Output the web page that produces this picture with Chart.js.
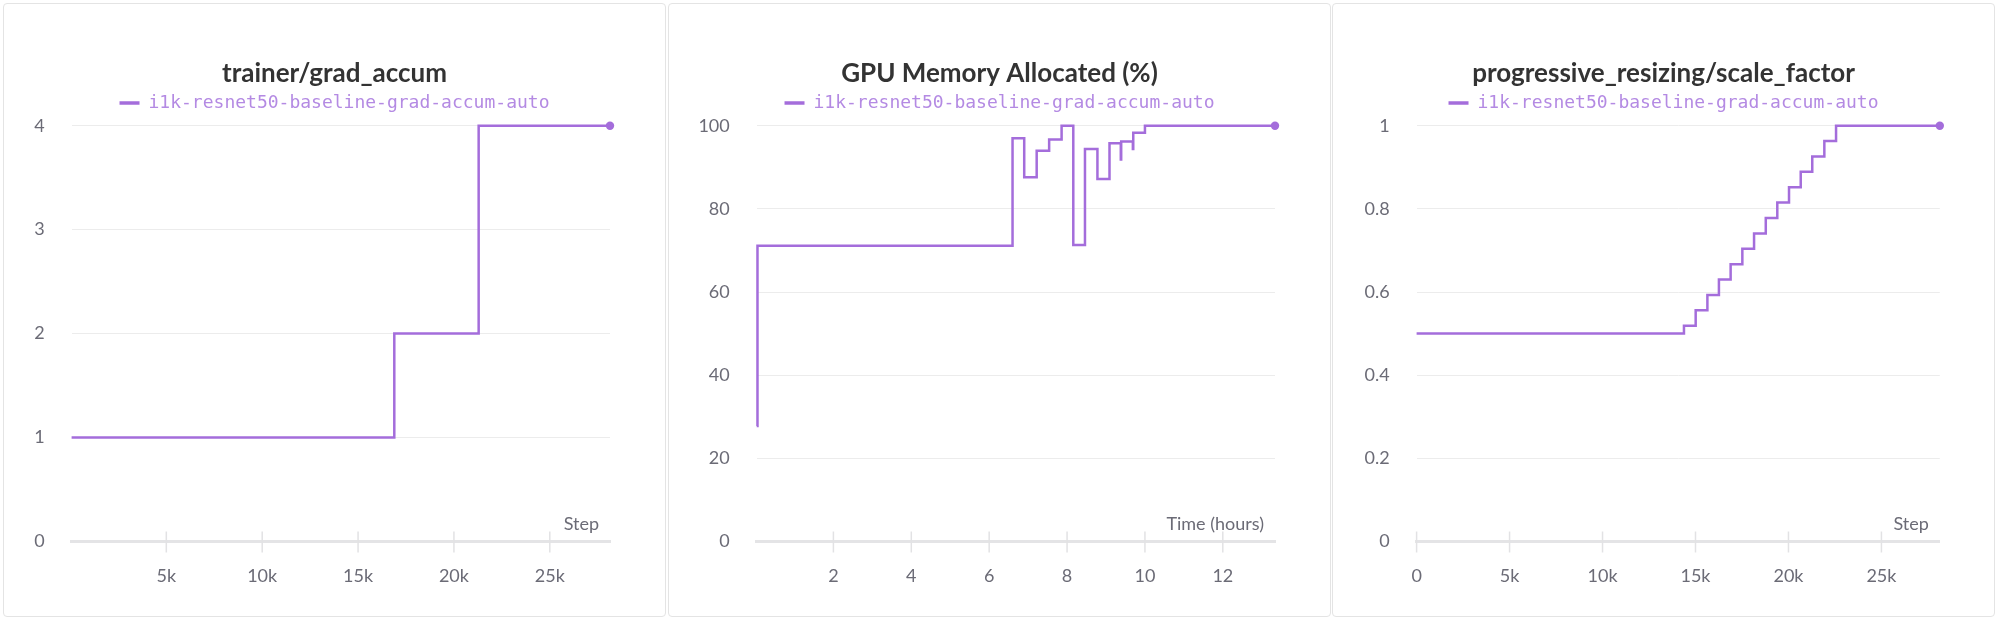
<!DOCTYPE html>
<html>
<head>
<meta charset="utf-8">
<script src="https://cdn.jsdelivr.net/npm/chart.js@4.4.0/dist/chart.umd.min.js"></script>
<style>
  html, body { margin: 0; padding: 0; background: #fff; }
  body { width: 1999px; height: 619px; position: relative; overflow: hidden; }
  .panel { position: absolute; top: 3px; width: 661px; height: 612px; border: 1px solid #e4e4e4; border-radius: 4px; }
  .panel canvas { display: block; }
</style>
</head>
<body>
<div class="panel" style="left:3px"><canvas id="c1" width="661" height="612"></canvas></div>
<div class="panel" style="left:668px"><canvas id="c2" width="661" height="612"></canvas></div>
<div class="panel" style="left:1332px"><canvas id="c3" width="661" height="612"></canvas></div>
<script>
const runName = 'i1k-resnet50-baseline-grad-accum-auto';

// trainer/grad_accum vs step
const gradSteps  = [60, 16890, 21290, 28140];
const gradValues = [1, 2, 4, 4];
const gradXTicks = [5000, 10000, 15000, 20000, 25000];
const gradYTicks = [0, 1, 2, 3, 4];

// GPU memory allocated (%) vs time (hours)
const gpuHours  = [0.03, 0.05, 6.6, 6.9, 7.22, 7.54, 7.86, 8.16, 8.46, 8.78, 9.09, 9.38, 9.39, 9.69, 9.70, 10.0, 13.34];
const gpuValues = [27.8, 71.1, 97.0, 87.6, 94.0, 96.7, 100, 71.3, 94.4, 87.2, 95.8, 91.9, 96.2, 94.4, 98.3, 100, 100];
const gpuXTicks = [2, 4, 6, 8, 10, 12];
const gpuYTicks = [0, 20, 40, 60, 80, 100];

// progressive_resizing/scale_factor vs step
const scaleSteps  = [0, 14380, 15010, 15640, 16260, 16890, 17520, 18150, 18780, 19400, 20030, 20660, 21280, 21930, 22560, 28140];
const scaleValues = [0.5, 0.519, 0.556, 0.593, 0.630, 0.667, 0.704, 0.741, 0.778, 0.815, 0.852, 0.889, 0.926, 0.963, 1.0, 1.0];
const scaleXTicks = [0, 5000, 10000, 15000, 20000, 25000];
const scaleYTicks = [0, 0.2, 0.4, 0.6, 0.8, 1];

const lineColor = '#a46ddb';
const tickColor = '#6b6b76';
const sans = 'Lato';

const kFmt = v => v === 0 ? '0' : (v / 1000) + 'k';
const numFmt = v => String(Math.round(v * 100) / 100);

// tick marks across the x axis line + axis name above it on the right
const axisMarks = {
  id: 'axisMarks',
  beforeDatasetsDraw(chart, args, opts) {
    const {ctx, chartArea} = chart;
    const xs = chart.scales.x;
    ctx.save();
    ctx.strokeStyle = '#e2e2e4';
    ctx.lineWidth = 1.5;
    xs.ticks.forEach(t => {
      const px = xs.getPixelForValue(t.value);
      ctx.beginPath();
      ctx.moveTo(px, chartArea.bottom - 10);
      ctx.lineTo(px, chartArea.bottom + 11);
      ctx.stroke();
    });
    ctx.font = '18px ' + sans;
    ctx.fillStyle = tickColor;
    ctx.textAlign = 'right';
    ctx.textBaseline = 'middle';
    ctx.fillText(opts.text, chartArea.right - 11, chartArea.bottom - 17);
    ctx.restore();
  }
};

function makeChart(id, c) {
  const n = c.xs.length;
  return new Chart(document.getElementById(id), {
    type: 'line',
    data: {
      datasets: [{
        label: runName,
        data: c.xs.map((x, i) => ({x, y: c.ys[i]})),
        stepped: true,
        borderColor: lineColor,
        backgroundColor: lineColor,
        borderWidth: 2.5,
        pointRadius: ctx => ctx.dataIndex === n - 1 ? 4.2 : 0,
        pointBorderWidth: 0,
        pointBackgroundColor: lineColor,
        fill: false,
        clip: false
      }]
    },
    options: {
      responsive: false,
      animation: false,
      events: [],
      layout: { padding: 0 },
      plugins: {
        title: {
          display: true, text: c.title, color: '#333',
          font: { family: sans, size: 26, weight: 'bold' },
          padding: { top: 53.9, bottom: 0.9 }
        },
        legend: {
          display: true,
          labels: {
            usePointStyle: true, pointStyle: 'line', pointStyleWidth: 20,
            font: { family: 'DejaVu Sans Mono', size: 18 },
            color: '#b48ae3', padding: 4,
            generateLabels: ch => Chart.defaults.plugins.legend.labels.generateLabels(ch).map(l => Object.assign(l, { lineWidth: 3.5 }))
          }
        },
        subtitle: { display: true, text: ' ', weight: 500, padding: 0, font: { size: 3.08 } },
        tooltip: { enabled: false },
        axisMarks: { text: c.xName }
      },
      scales: {
        x: {
          type: 'linear', min: c.xMin, max: c.xMax,
          afterBuildTicks: s => { s.ticks = c.xTicks.map(v => ({ value: v })); },
          ticks: { padding: 23.7, color: tickColor, font: { family: sans, size: 18 },
                   maxRotation: 0, autoSkip: false, callback: c.xFmt },
          grid: { display: false, drawTicks: false },
          border: { display: true, color: '#e4e4e6', width: 3 },
          afterFit: s => { s.height = 74.5; s.paddingRight = c.padRight; s.paddingLeft = 0; }
        },
        y: {
          min: 0, max: c.yMax,
          afterBuildTicks: s => { s.ticks = c.yTicks.map(v => ({ value: v })); },
          ticks: { padding: 27, color: tickColor, font: { family: sans, size: 18 }, callback: numFmt },
          grid: { color: ctx => ctx.tick && ctx.tick.value === 0 ? 'rgba(0,0,0,0)' : '#ececec', lineWidth: 1, drawTicks: false },
          border: { display: false },
          afterFit: s => { s.width = c.yWidth; }
        }
      }
    },
    plugins: [axisMarks]
  });
}

makeChart('c1', { title: 'trainer/grad_accum', xs: gradSteps, ys: gradValues,
  xMin: gradSteps[0], xMax: gradSteps[gradSteps.length - 1], xTicks: gradXTicks, xFmt: kFmt, xName: 'Step',
  yMax: 4, yTicks: gradYTicks, yWidth: 67.6, padRight: 55 });

makeChart('c2', { title: 'GPU Memory Allocated (%)', xs: gpuHours, ys: gpuValues,
  xMin: gpuHours[0], xMax: gpuHours[gpuHours.length - 1], xTicks: gpuXTicks, xFmt: v => v, xName: 'Time (hours)',
  yMax: 100, yTicks: gpuYTicks, yWidth: 87.7, padRight: 55 });

makeChart('c3', { title: 'progressive_resizing/scale_factor', xs: scaleSteps, ys: scaleValues,
  xMin: 0, xMax: scaleSteps[scaleSteps.length - 1], xTicks: scaleXTicks, xFmt: kFmt, xName: 'Step',
  yMax: 1, yTicks: scaleYTicks, yWidth: 83.6, padRight: 54.2 });
</script>
</body>
</html>
